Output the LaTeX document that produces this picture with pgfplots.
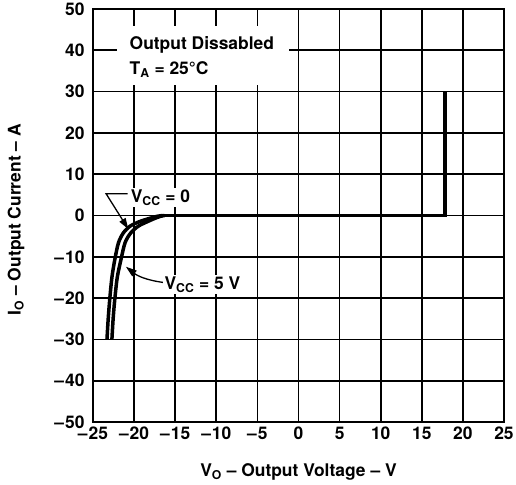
\documentclass[border=0pt]{standalone}
\usepackage{pgfplots}
\pgfplotsset{compat=1.18}
\usepackage{fontspec}
\setmainfont{TeX Gyre Heros}
\usetikzlibrary{arrows.meta}
\begin{document}
\begin{tikzpicture}[font=\fontsize{17.5}{20}\selectfont\bfseries]
\begin{axis}[
 width=411bp, height=413bp, scale only axis,
 xmin=-25, xmax=25, ymin=-50, ymax=50,
 xtick={-25,-20,...,25}, ytick={-50,-40,...,50},
 xticklabels={--\kern1bp25,--\kern1bp20,--\kern1bp15,--\kern1bp10,--\kern1bp5,0,5,10,15,20,25},
 yticklabels={--\kern1bp50,--\kern1bp40,--\kern1bp30,--\kern1bp20,--\kern1bp10,0,10,20,30,40,50},
 major tick length=0pt,
 grid=major,
 major grid style={black, line width=1.7bp},
 axis line style={black, line width=2.6bp},
 xticklabel style={anchor=north, yshift=-1.5bp},
 yticklabel style={anchor=east, xshift=-5bp},
 xlabel={V\textsubscript{O} -- Output Voltage -- V},
 ylabel={I\textsubscript{O} -- Output Current -- A},
 xlabel style={at={([yshift=-50bp]axis description cs:0.5,0)}, anchor=center},
 ylabel style={at={([xshift=-77bp]axis description cs:0,0.49)}, anchor=center},
]
% V_CC = 0 (outer curve)
\addplot[black, line width=3.5bp, smooth] coordinates {
 (-23.3,-30) (-23.15,-25) (-22.95,-20) (-22.7,-15) (-22.35,-10.7) (-21.9,-6.6)
 (-21.3,-4.2) (-20.5,-2.6) (-19.5,-1.6) (-18.3,-0.8) (-17.2,-0.2) (-16.5,0)
};
% V_CC = 5 V (inner curve)
\addplot[black, line width=3.5bp, smooth] coordinates {
 (-22.7,-30) (-22.55,-25) (-22.35,-20.3) (-22.05,-15) (-21.6,-10.7) (-21.1,-6.6)
 (-20.4,-4.2) (-19.5,-2.6) (-18.5,-1.6) (-17.6,-0.8) (-16.8,-0.2) (-16.3,0)
};
% disabled leakage line
\addplot[black, line width=3.5bp, line join=miter] coordinates {
 (-16.8,0) (17.8,0) (17.8,30)
};
% annotation box
\fill[white] (axis cs:-22.1,31.7) rectangle (axis cs:-1.1,45.8);
\node[anchor=west, inner sep=0pt] at (axis cs:-20.56,41.4) {Output Dissabled};
\node[anchor=west, inner sep=0pt] at (axis cs:-20.56,35.4) {T\textsubscript{A} = 25\textdegree C};
% V_CC = 0 label
\draw[black, line width=1.3bp, -{Triangle[length=11bp,width=7bp]}]
 (axis cs:-20.8,5.25) -- (axis cs:-23.4,5.25) -- (axis cs:-20.7,-3.3);
\node[anchor=west, fill=white, inner sep=1.5bp] at (axis cs:-20.6,4.4) {V\textsubscript{CC} = 0};
% V_CC = 5 V label
\draw[black, line width=1.3bp, -{Triangle[length=11bp,width=7bp]}]
 (axis cs:-16.5,-16.2) .. controls (axis cs:-18.6,-15.6) and (axis cs:-19.6,-14.6) .. (axis cs:-21.0,-12.4);
\node[anchor=west, fill=white, inner sep=1.5bp] at (axis cs:-16.5,-16.7) {V\textsubscript{CC} = 5 V};
\end{axis}
\pgfresetboundingbox
\path ([shift={(-93bp,-63bp)}]current axis.south west) rectangle ([shift={(12bp,9bp)}]current axis.north east);
\end{tikzpicture}
\end{document}
